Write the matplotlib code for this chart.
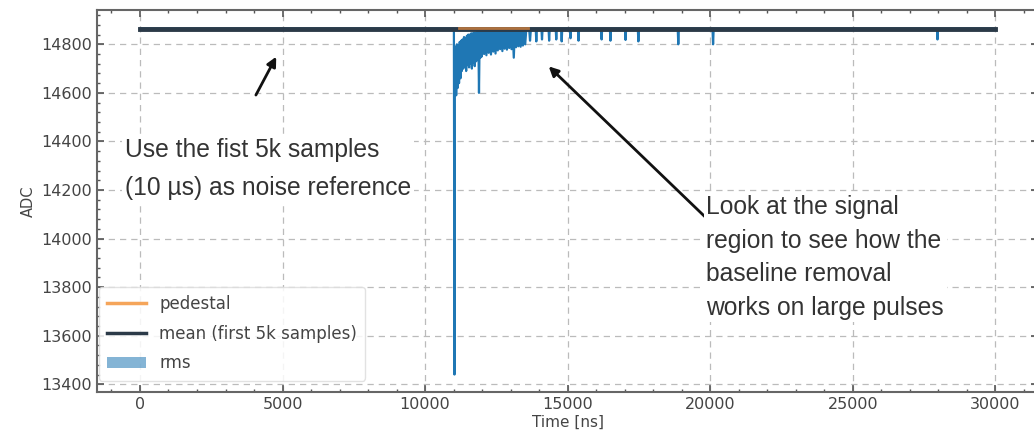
import matplotlib.pyplot as plt
from matplotlib.ticker import AutoMinorLocator

# waveform (time in ns, ADC counts)
sig_t = [0, 10990, 11010, 11030,
         11040, 11065, 11090, 11115, 11140, 11165, 11190, 11215, 11240, 11265,
         11290, 11315, 11340, 11365, 11390, 11415, 11440, 11465, 11490, 11515,
         11540, 11565, 11590, 11615, 11640, 11665, 11690, 11715, 11740, 11765,
         11790, 11815, 11840, 11865, 11890, 11915, 11940, 11965, 11990,
         12030, 12070, 12110, 12150, 12190, 12230, 12270, 12310, 12350, 12390,
         12430, 12470, 12510, 12550, 12590, 12630, 12670, 12710, 12750, 12790,
         12830, 12870, 12910, 12950, 12990, 13030, 13070, 13110, 13150, 13190,
         13230, 13270, 13310, 13350, 13390, 13430, 13470, 13510, 13550,
         13650, 13680, 13710, 13880, 13900, 13920, 14080, 14100, 14120,
         14330, 14350, 14370, 14580, 14600, 14620, 14770, 14790, 14810,
         15080, 15100, 15120, 15360, 15380, 15400, 16170, 16190, 16210,
         16480, 16500, 16520, 17010, 17030, 17050, 17460, 17480, 17500,
         18860, 18880, 18900, 20080, 20100, 20120, 27950, 27970, 27990, 30000]
sig_v = [14864, 14864, 14862, 13440,
         14700, 14790, 14590, 14800, 14620, 14795, 14640, 14810, 14660, 14815,
         14690, 14820, 14700, 14830, 14710, 14825, 14690, 14835, 14715, 14840,
         14705, 14840, 14720, 14845, 14700, 14845, 14725, 14848, 14710, 14848,
         14730, 14850, 14740, 14850, 14600, 14852, 14745, 14852, 14750,
         14855, 14760, 14852, 14755, 14855, 14765, 14855, 14758, 14856, 14770,
         14856, 14762, 14857, 14775, 14857, 14780, 14858, 14772, 14858, 14782,
         14858, 14778, 14859, 14785, 14860, 14780, 14860, 14745, 14860, 14788,
         14860, 14792, 14861, 14790, 14861, 14795, 14862, 14800, 14862,
         14862, 14815, 14863, 14863, 14812, 14863, 14864, 14820, 14864,
         14864, 14815, 14864, 14864, 14820, 14864, 14864, 14812, 14864,
         14864, 14825, 14864, 14864, 14815, 14864, 14864, 14820, 14864,
         14864, 14815, 14864, 14864, 14818, 14864, 14864, 14812, 14864,
         14864, 14800, 14864, 14864, 14800, 14864, 14864, 14820, 14864, 14864]

# mean of the first 5k samples and its rms
mean_t = [0, 30000]
mean_v = [14865, 14865]
rms_v = [5, 5]

# pedestal, only visible above the mean in the pulse region
ped_t = [11200, 13600]
ped_v = [14869, 14869]

fig = plt.figure(figsize=(10.34, 4.47), dpi=100)
ax = fig.add_axes([0.094, 0.123, 0.91, 0.855])

ax.plot(sig_t, sig_v, color='#1f77b4', lw=1.6, zorder=3)
ax.fill_between(mean_t, [m - r for m, r in zip(mean_v, rms_v)],
                [m + r for m, r in zip(mean_v, rms_v)],
                color='#1f77b4', alpha=0.55, lw=0, label='rms', zorder=2)
ax.plot(mean_t, mean_v, color='#2b3a48', lw=3.5, label='mean (first 5k samples)', zorder=4)
ax.plot(ped_t, ped_v, color='#d0803c', lw=2, alpha=0.8, zorder=5)
ax.plot([], [], color='#f5a55a', lw=2.5, label='pedestal')

ax.set_xlim(-1500, 31500)
ax.set_ylim(13368, 14942)
ax.set_xticks([0, 5000, 10000, 15000, 20000, 25000, 30000])
ax.set_yticks([13400, 13600, 13800, 14000, 14200, 14400, 14600, 14800])
ax.xaxis.set_minor_locator(AutoMinorLocator(5))
ax.yaxis.set_minor_locator(AutoMinorLocator(5))
ax.tick_params(which='both', direction='in', top=True, right=True, colors='#555555',
               labelcolor='#444444')
ax.tick_params(which='major', length=5, width=1.2, labelsize=11.5)
ax.tick_params(which='minor', length=2.5, width=1)
for s in ax.spines.values():
    s.set_color('#666666')
    s.set_linewidth(1.5)
ax.grid(True, ls=(0, (5, 4)), color='#bbbbbb', lw=0.9)

ax.set_xlabel('Time [ns]', fontsize=11, color='#444444', labelpad=2)
ax.set_ylabel('ADC', fontsize=10.5, color='#444444', labelpad=4)

h, l = ax.get_legend_handles_labels()
order = [l.index('pedestal'), l.index('mean (first 5k samples)'), l.index('rms')]
leg = ax.legend([h[i] for i in order], [l[i] for i in order], loc='lower left',
                bbox_to_anchor=(0.002, 0.03), borderaxespad=0,
                fontsize=12, framealpha=0.85, edgecolor='#dddddd', labelcolor='#444444',
                handlelength=2.3, borderpad=0.5, labelspacing=0.7)
leg.get_lines()[1].set_linewidth(2.5)

ax.annotate('', xy=(4825, 14759), xytext=(4020, 14581),
            arrowprops=dict(arrowstyle='-|>', color='#111111', lw=2, mutation_scale=14))
ax.text(-525, 14288, 'Use the fist 5k samples\n(10 \u00b5s) as noise reference',
        fontsize=17.7, color='#333333', family='Liberation Sans', va='center',
        linespacing=1.75, zorder=6,
        bbox=dict(facecolor='white', edgecolor='none', pad=2))

ax.annotate('', xy=(14265, 14717), xytext=(20000, 14069),
            arrowprops=dict(arrowstyle='-|>', color='#111111', lw=2, mutation_scale=14))
ax.text(19860, 13922, 'Look at the signal\nregion to see how the\nbaseline removal\nworks on large pulses',
        fontsize=17.7, color='#333333', family='Liberation Sans', va='center',
        linespacing=1.5, zorder=6,
        bbox=dict(facecolor='white', edgecolor='none', pad=2))

fig.savefig('out.png', dpi=100)
